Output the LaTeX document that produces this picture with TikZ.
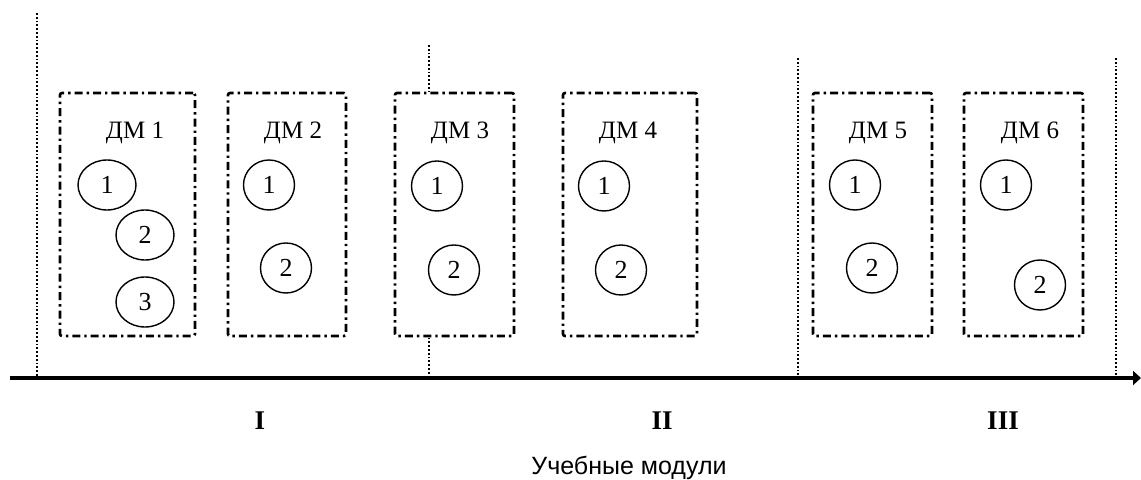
\documentclass[tikz,border=0pt]{standalone}
\usepackage{fontspec}
\setmainfont{Liberation Serif}
\newfontfamily\sansfont{Liberation Sans}
\usetikzlibrary{shapes.geometric, arrows.meta}

\tikzset{
  dmbox/.style={draw, fill=white, line width=1.3pt, rounded corners=1pt,
    dash pattern=on 4pt off 2pt on 1.2pt off 2pt,
    minimum width=#1, minimum height=121.5pt, inner sep=0pt},
  dmlabel/.style={font=\fontsize{12.5}{14}\selectfont},
  part/.style={draw, ellipse, line width=0.7pt, inner sep=0pt,
    minimum width=25.5pt, minimum height=25pt, font=\fontsize{13}{14}\selectfont},
  border/.style={line width=0.9pt, densely dotted},
  stage/.style={font=\fontsize{13.5}{16}\selectfont\bfseries}
}

\begin{document}
\begin{tikzpicture}[x=0.5pt, y=-0.5pt]
  \useasboundingbox (0,0) rectangle (1141,480);
  % borders of the stages
  \coordinate (t1) at (37,13);    \coordinate (b1) at (37,378);
  \coordinate (t2) at (429,45);   \coordinate (b2) at (429,378);
  \coordinate (t3) at (798,58);   \coordinate (b3) at (798,378);
  \coordinate (t4) at (1116,58);  \coordinate (b4) at (1116,378);
  \draw [border] (t1)--(b1);
  \draw [border] (t2)--(b2);
  \draw [border] (t3)--(b3);
  \draw [border] (t4)--(b4);
  \coordinate (ax0) at (10,378);
  \coordinate (ax1) at (1141,378);
  \draw [line width=2pt, -{Triangle[length=4pt, width=7pt]}] (ax0)--(ax1);

  \node [dmbox=67.5pt] (dm1) at (127.5,214.5) {};
  \node [dmbox=59pt]   (dm2) at (287,214.5) {};
  \node [dmbox=59.5pt] (dm3) at (454.5,214.5) {};
  \node [dmbox=67pt]   (dm4) at (630,214.5) {};
  \node [dmbox=59.5pt] (dm5) at (872.5,214.5) {};
  \node [dmbox=59.5pt] (dm6) at (1023.5,214.5) {};

  \node [dmlabel] (l1) at (135,133) {ДМ 1};
  \node [dmlabel] (l2) at (293,133) {ДМ 2};
  \node [dmlabel] (l3) at (460,133) {ДМ 3};
  \node [dmlabel] (l4) at (628,133) {ДМ 4};
  \node [dmlabel] (l5) at (878,133) {ДМ 5};
  \node [dmlabel] (l6) at (1030,133) {ДМ 6};

  \node [part, minimum width=29pt] (p11) at (107,185) {1};
  \node [part, minimum width=29pt] (p12) at (145,235) {2};
  \node [part, minimum width=29pt] (p13) at (145,302) {3};
  \node [part] (p21) at (269,185) {1};
  \node [part] (p22) at (286,268) {2};
  \node [part] (p31) at (437,186) {1};
  \node [part] (p32) at (454,270) {2};
  \node [part] (p41) at (604,186) {1};
  \node [part] (p42) at (621,270) {2};
  \node [part] (p51) at (855,185) {1};
  \node [part] (p52) at (872,268) {2};
  \node [part] (p61) at (1006,185) {1};
  \node [part] (p62) at (1040,285) {2};

  \node [stage] (s1) at (260,421) {I};
  \node [stage] (s2) at (662,421) {II};
  \node [stage] (s3) at (1003,421) {III};
  \node [font=\sansfont\fontsize{12.5}{15}\selectfont] (cap) at (629,468) {Учебные модули};
\end{tikzpicture}
\end{document}
